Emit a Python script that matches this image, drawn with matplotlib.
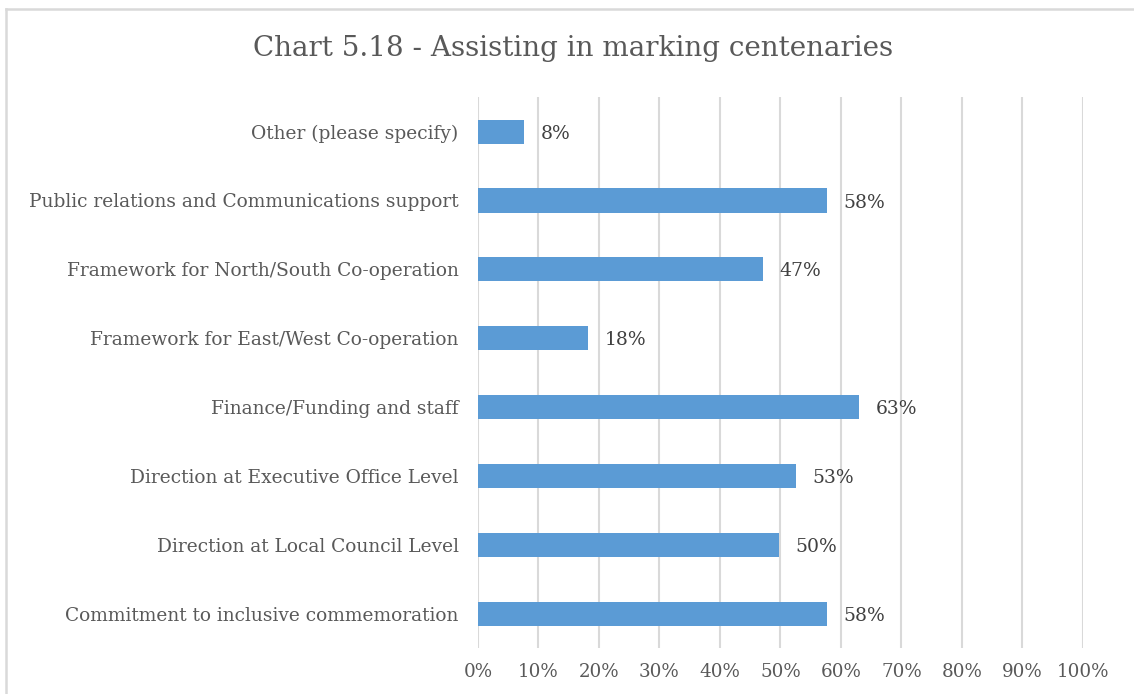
import matplotlib
matplotlib.use("Agg")
import matplotlib.pyplot as plt
from matplotlib.lines import Line2D
from matplotlib.ticker import MultipleLocator, FuncFormatter

plt.rcParams["font.family"] = ["DejaVu Serif"]

# Data (bottom to top, as drawn)
categories = [
    "Commitment to inclusive commemoration",
    "Direction at Local Council Level",
    "Direction at Executive Office Level",
    "Finance/Funding and staff",
    "Framework for East/West Co-operation",
    "Framework for North/South Co-operation",
    "Public relations and Communications support",
    "Other (please specify)",
]
values = [57.7, 49.8, 52.6, 63.0, 18.2, 47.1, 57.7, 7.6]

BAR_COLOR = "#5B9BD5"
TEXT_COLOR = "#595959"
GRID_COLOR = "#D9D9D9"

fig = plt.figure(figsize=(11.34, 6.94), dpi=100)
ax = fig.add_axes([0.4215, 0.066, 0.5335, 0.794])

ax.barh(categories, values, height=0.35, color=BAR_COLOR, zorder=3)
for i, v in enumerate(values):
    ax.text(v + 2.7, i - 0.03, f"{v:.0f}%", va="center", ha="left",
            fontsize=13.5, color="#404040")

ax.set_xlim(0, 100)
ax.set_ylim(-0.5, len(categories) - 0.5)
ax.xaxis.set_major_locator(MultipleLocator(10))
ax.xaxis.set_major_formatter(FuncFormatter(lambda x, _: f"{x:.0f}%"))
ax.grid(axis="x", color=GRID_COLOR, linewidth=1.5, zorder=0)
for s in ax.spines.values():
    s.set_visible(False)
ax.tick_params(axis="y", length=0, colors=TEXT_COLOR, labelsize=13.4, pad=14)
ax.tick_params(axis="x", length=0, colors=TEXT_COLOR, labelsize=13.2, pad=11)

fig.text(0.505, 1 - 48 / 694, "Chart 5.18 - Assisting in marking centenaries",
         ha="center", va="center", fontsize=20, color=TEXT_COLOR)

# chart frame (top and left edges visible)
fig.add_artist(Line2D([6 / 1134, 6 / 1134], [0, 1 - 9 / 694], color=GRID_COLOR,
                      linewidth=1.8, transform=fig.transFigure))
fig.add_artist(Line2D([6 / 1134, 1], [1 - 9 / 694, 1 - 9 / 694], color=GRID_COLOR,
                      linewidth=1.8, transform=fig.transFigure))

fig.savefig("out.png", dpi=100)
